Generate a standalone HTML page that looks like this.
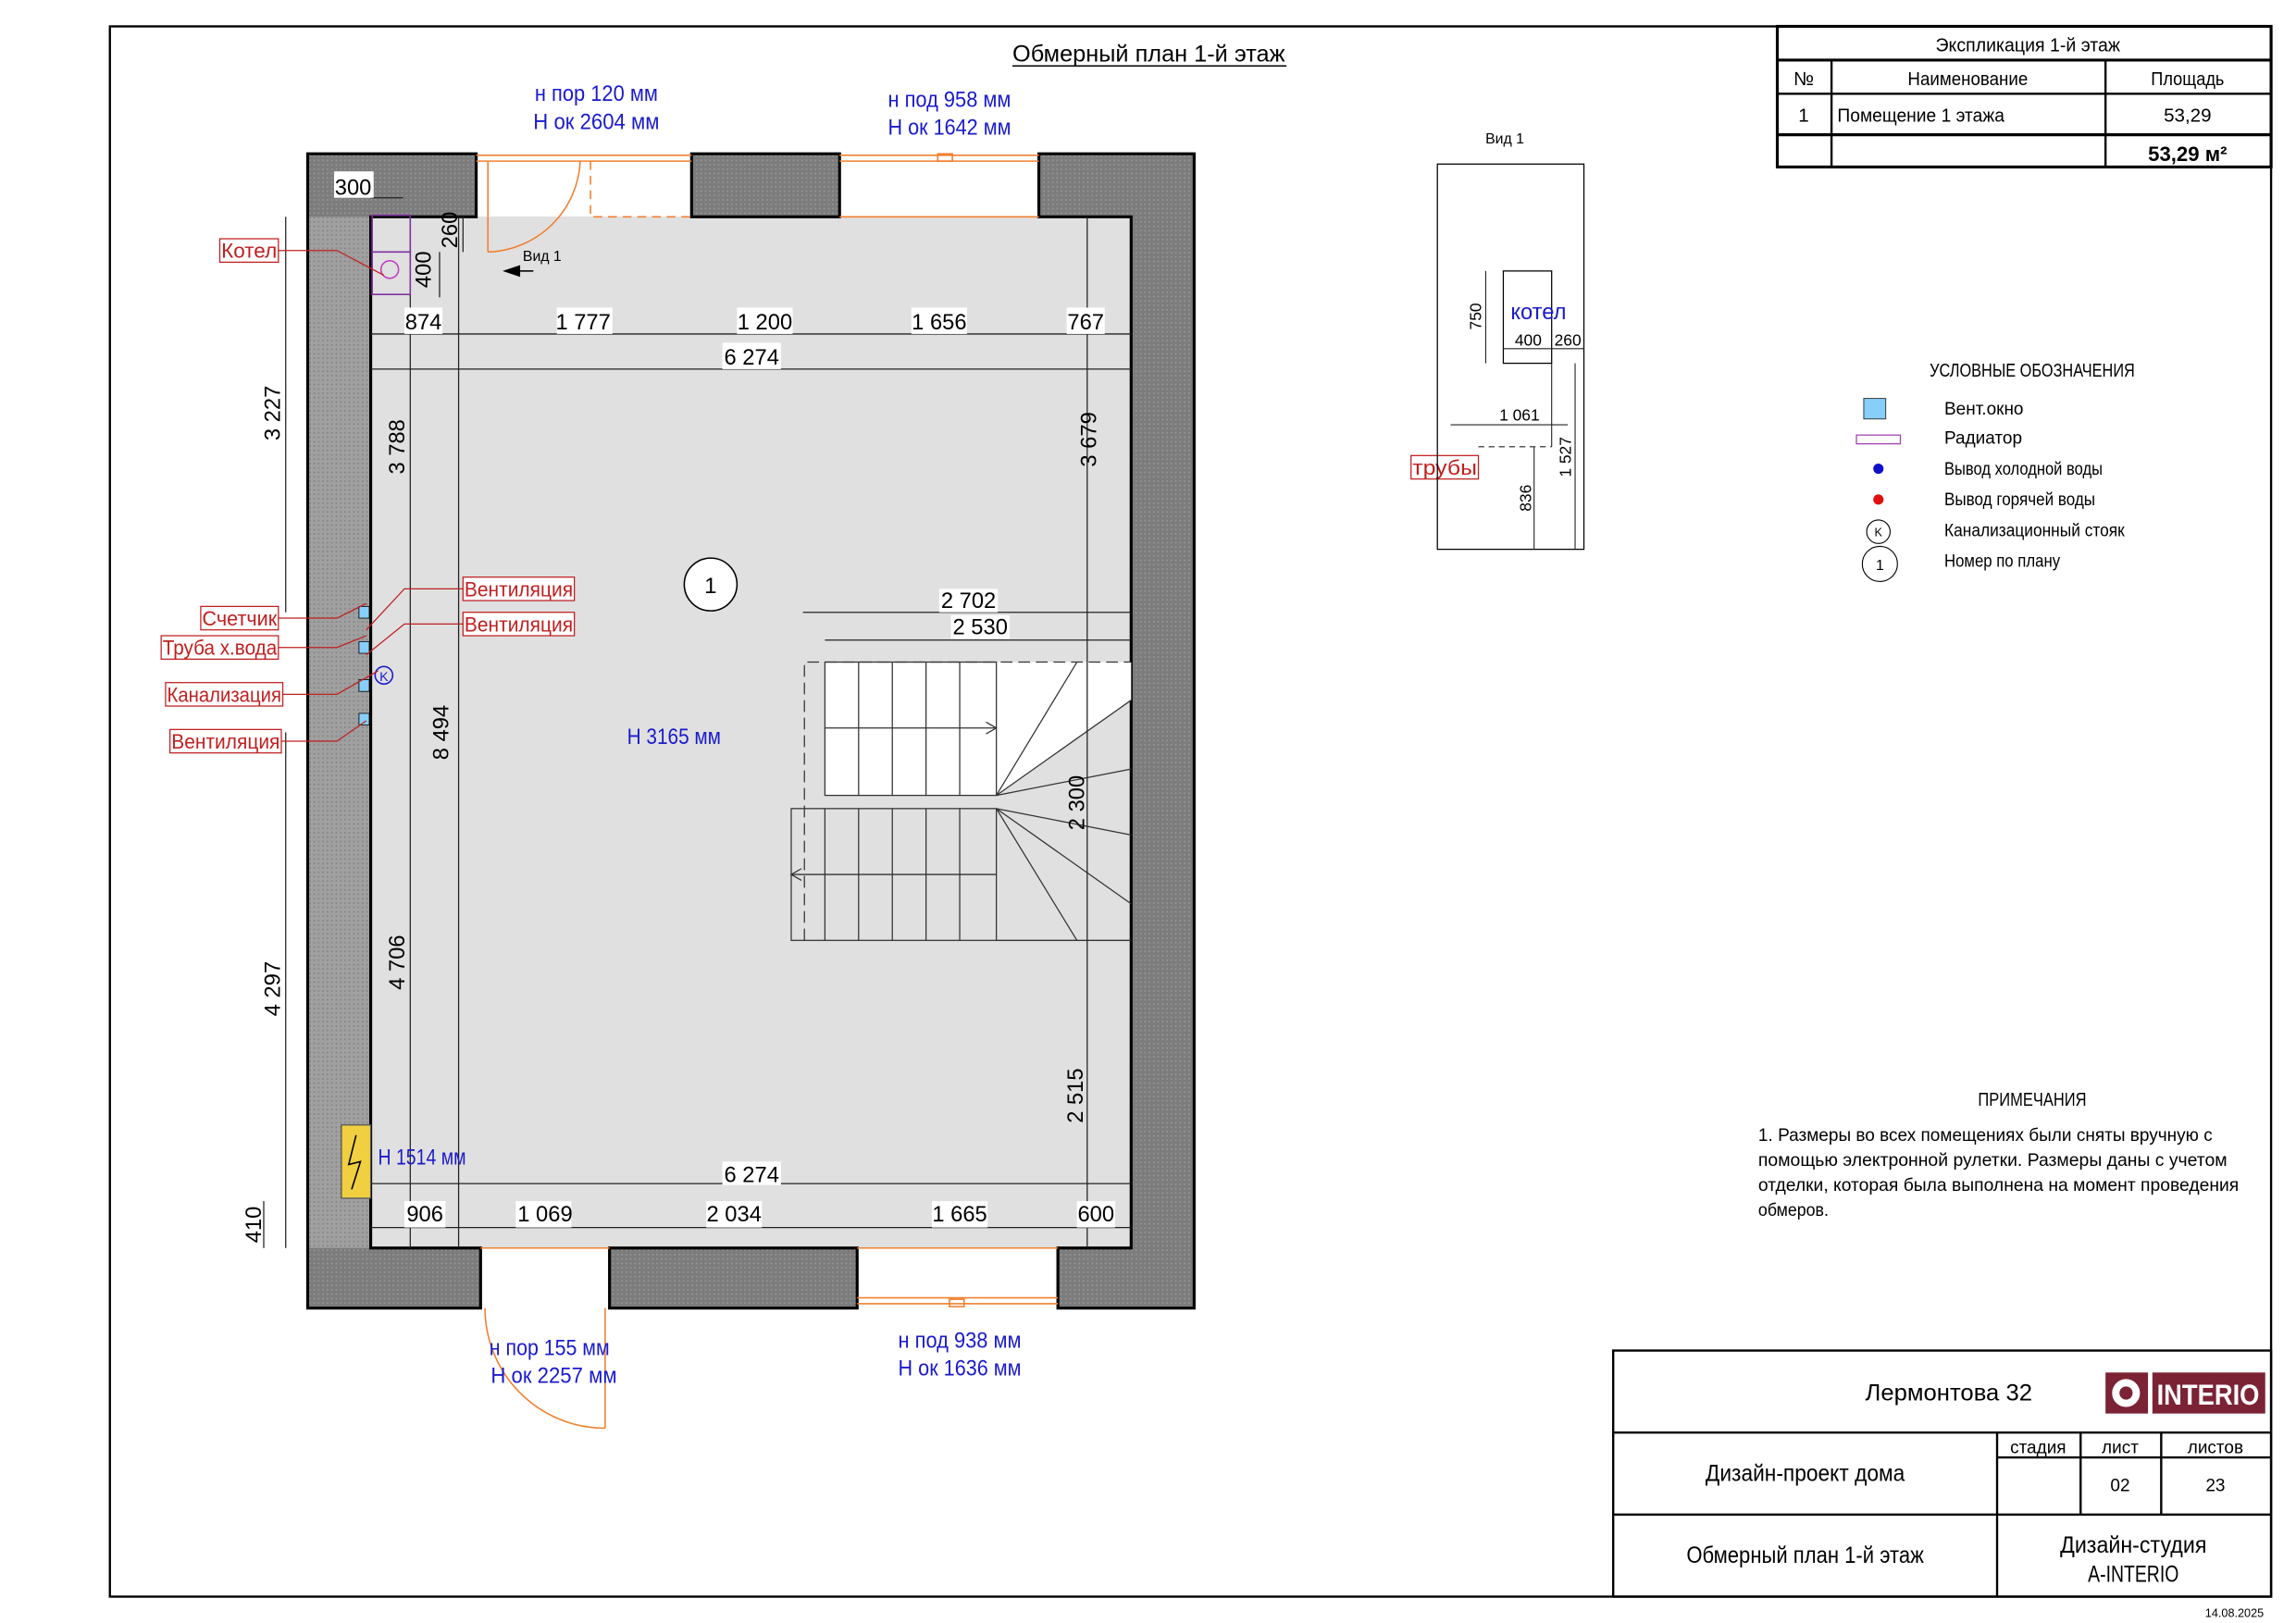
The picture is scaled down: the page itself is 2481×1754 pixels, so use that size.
<!DOCTYPE html>
<html><head><meta charset="utf-8"><style>
html,body{margin:0;padding:0;background:#fff}
svg{display:block}
text{font-family:"Liberation Sans Narrow","Liberation Sans","DejaVu Sans",sans-serif}
</style></head><body>
<svg width="2481" height="1754" viewBox="0 0 1567 1108" preserveAspectRatio="none" xmlns="http://www.w3.org/2000/svg">
<defs>
<pattern id="dots" width="3" height="3" patternUnits="userSpaceOnUse"><rect width="3" height="3" fill="#7c7c7c"/><rect x="1" y="1" width="1" height="1" fill="#9a9a9a"/></pattern>
<pattern id="dots2" width="3" height="3" patternUnits="userSpaceOnUse"><rect width="3" height="3" fill="#a0a0a0"/><rect x="1" y="1" width="1" height="1" fill="#808080"/></pattern>
</defs>
<rect width="1567" height="1108" fill="#fff"/>
<rect x="75" y="18" width="1475" height="1072" fill="none" stroke="#000" stroke-width="1.5"/>
<text x="784" y="42" font-size="16" text-anchor="middle" textLength="186" lengthAdjust="spacingAndGlyphs">Обмерный план 1-й этаж</text>
<line x1="691" y1="45" x2="878" y2="45" stroke="#000" stroke-width="1"/>

<!-- walls -->
<rect x="210" y="105" width="605" height="788" fill="url(#dots)"/>
<rect x="210" y="148" width="43" height="704" fill="url(#dots2)"/>
<rect x="253" y="148" width="519" height="704" fill="#e0e0e0"/>
<rect x="325" y="104" width="147" height="44" fill="#fff"/>
<rect x="573" y="104" width="136" height="44" fill="#fff"/>
<rect x="328" y="852" width="88" height="42" fill="#fff"/>
<rect x="585" y="852" width="137" height="42" fill="#fff"/>
<g fill="none" stroke="#000" stroke-width="2">
<path d="M210 105 H325 V148 H253 V852 H328 V893 H210 Z"/>
<path d="M472 105 H573 V148 H472 Z"/>
<path d="M709 105 H815 V893 H722 V852 H772 V148 H709 Z"/>
<path d="M416 852 H585 V893 H416 Z"/>
</g>
<g fill="none" stroke="#f08030" stroke-width="1">
<line x1="325" y1="106" x2="472" y2="106"/><line x1="325" y1="110" x2="472" y2="110"/>
<line x1="573" y1="106" x2="709" y2="106"/><line x1="573" y1="110" x2="709" y2="110"/>
<line x1="573" y1="148" x2="709" y2="148"/>
<rect x="640" y="105" width="10" height="5"/>
<line x1="333" y1="110" x2="333" y2="172"/>
<path d="M333 172 A65 65 0 0 0 396 110"/>
<path d="M403 110 V148 H472" stroke-dasharray="6 4"/>
<line x1="585" y1="886" x2="722" y2="886"/><line x1="585" y1="890" x2="722" y2="890"/>
<line x1="585" y1="852" x2="722" y2="852"/>
<rect x="648" y="887" width="10" height="5"/>
<line x1="413" y1="893" x2="413" y2="975"/>
<path d="M413 975 A82 82 0 0 1 331 893"/>
<line x1="328" y1="852" x2="416" y2="852"/>
</g>

<!-- stairs -->
<rect x="563" y="452" width="117" height="91" fill="#fff"/>
<polygon points="680,452 772,452 772,478 680,543" fill="#fff"/>
<g stroke="#333" stroke-width="0.8" fill="none">
<rect x="563" y="452" width="117" height="91"/>
<line x1="586" y1="452" x2="586" y2="543"/><line x1="609" y1="452" x2="609" y2="543"/><line x1="632" y1="452" x2="632" y2="543"/><line x1="655" y1="452" x2="655" y2="543"/>
<line x1="563" y1="497" x2="680" y2="497"/><path d="M673 493 L680 497 L673 501"/>
<rect x="540" y="552" width="140" height="90"/>
<line x1="563" y1="552" x2="563" y2="642"/><line x1="586" y1="552" x2="586" y2="642"/><line x1="609" y1="552" x2="609" y2="642"/><line x1="632" y1="552" x2="632" y2="642"/><line x1="655" y1="552" x2="655" y2="642"/>
<line x1="540" y1="597" x2="680" y2="597"/><path d="M547 593 L540 597 L547 601"/>
<path d="M680 543 L735 452 M680 543 L772 478 M680 543 L772 525 M680 552 L772 570 M680 552 L772 617 M680 552 L735 642"/>
<path d="M549 642 V452 H772" stroke-dasharray="8 4"/>
<line x1="680" y1="642" x2="772" y2="642"/>
</g>

<!-- dimension lines -->
<g stroke="#222" stroke-width="0.8" fill="none">
<line x1="253" y1="228" x2="772" y2="228"/><line x1="253" y1="252" x2="772" y2="252"/>
<line x1="280" y1="148" x2="280" y2="852"/><line x1="313" y1="148" x2="313" y2="852"/>
<line x1="742" y1="148" x2="742" y2="852"/>
<line x1="548" y1="418" x2="772" y2="418"/><line x1="563" y1="437" x2="772" y2="437"/>
<line x1="253" y1="808" x2="772" y2="808"/><line x1="253" y1="838" x2="772" y2="838"/>
<line x1="195" y1="148" x2="195" y2="418"/><line x1="195" y1="500" x2="195" y2="852"/>
<line x1="180" y1="820" x2="180" y2="852"/>
<line x1="253" y1="135" x2="275" y2="135"/>
<line x1="316" y1="148" x2="316" y2="172"/><line x1="300" y1="172" x2="300" y2="203"/>
</g>
<g font-size="15" fill="#000" text-anchor="middle">
<g fill="#fff"><rect x="228" y="117" width="27" height="18"/><rect x="276" y="210" width="26" height="18"/><rect x="380" y="210" width="38" height="18"/><rect x="503" y="210" width="38" height="18"/><rect x="622" y="210" width="38" height="18"/><rect x="728" y="210" width="26" height="18"/><rect x="493" y="234" width="40" height="18"/><rect x="493" y="793" width="40" height="16"/><rect x="276" y="820" width="28" height="18"/><rect x="352" y="820" width="38" height="18"/><rect x="482" y="820" width="38" height="18"/><rect x="636" y="820" width="38" height="18"/><rect x="735" y="820" width="26" height="18"/><rect x="641" y="402" width="40" height="16"/><rect x="649" y="420" width="40" height="16"/></g>
<text x="241" y="133">300</text>
<text x="289" y="225">874</text><text x="398" y="225">1 777</text><text x="522" y="225">1 200</text><text x="641" y="225">1 656</text><text x="741" y="225">767</text>
<text x="513" y="249">6 274</text>
<text x="513" y="807">6 274</text>
<text x="290" y="834">906</text><text x="372" y="834">1 069</text><text x="501" y="834">2 034</text><text x="655" y="834">1 665</text><text x="748" y="834">600</text>
<text x="661" y="415">2 702</text><text x="669" y="433">2 530</text>
<text transform="translate(276,305) rotate(-90)" >3 788</text>
<text transform="translate(306,500) rotate(-90)">8 494</text>
<text transform="translate(276,657) rotate(-90)">4 706</text>
<text transform="translate(748,300) rotate(-90)">3 679</text>
<text transform="translate(740,548) rotate(-90)">2 300</text>
<text transform="translate(739,748) rotate(-90)">2 515</text>
<text transform="translate(191,282) rotate(-90)">3 227</text>
<text transform="translate(191,675) rotate(-90)">4 297</text>
<text transform="translate(178,836) rotate(-90)">410</text>
<text transform="translate(312,157) rotate(-90)">260</text>
<text transform="translate(294,184) rotate(-90)">400</text>
</g>
<text x="370" y="178" font-size="10" text-anchor="middle">Вид 1</text>
<path d="M343 185 L355 181 L355 189 Z" fill="#000"/><line x1="355" y1="185" x2="364" y2="185" stroke="#000" stroke-width="1"/>

<rect x="254" y="147" width="26" height="54" fill="none" stroke="#8030a0" stroke-width="1"/>
<line x1="254" y1="172" x2="280" y2="172" stroke="#8030a0"/>
<circle cx="266" cy="184" r="6" fill="none" stroke="#c040c0"/>

<circle cx="485" cy="399" r="18" fill="#fff" stroke="#000" stroke-width="1"/>
<text x="485" y="405" font-size="15" text-anchor="middle">1</text>
<g fill="#1a1acc" font-size="15" text-anchor="middle">
<text x="460" y="508" textLength="64" lengthAdjust="spacingAndGlyphs">H 3165 мм</text>
<text x="258" y="795" text-anchor="start" textLength="60" lengthAdjust="spacingAndGlyphs">H 1514 мм</text>
<text x="407" y="69" textLength="84" lengthAdjust="spacingAndGlyphs">н пор 120 мм</text><text x="407" y="88" textLength="86" lengthAdjust="spacingAndGlyphs">Н ок 2604 мм</text>
<text x="648" y="73" textLength="84" lengthAdjust="spacingAndGlyphs">н под 958 мм</text><text x="648" y="92" textLength="84" lengthAdjust="spacingAndGlyphs">Н ок 1642 мм</text>
<text x="375" y="925" textLength="82" lengthAdjust="spacingAndGlyphs">н пор 155 мм</text><text x="378" y="944" textLength="86" lengthAdjust="spacingAndGlyphs">Н ок 2257 мм</text>
<text x="655" y="920" textLength="84" lengthAdjust="spacingAndGlyphs">н под 938 мм</text><text x="655" y="939" textLength="84" lengthAdjust="spacingAndGlyphs">Н ок 1636 мм</text>
</g>
<rect x="233" y="768" width="20" height="50" fill="#f0d040" stroke="#555" stroke-width="0.8"/>
<path d="M243 775 L238 795 L246 793 L240 812" fill="none" stroke="#000" stroke-width="1"/>

<g fill="#87cefa" stroke="#000" stroke-width="0.5">
<rect x="245" y="414" width="7" height="8"/><rect x="245" y="438" width="7" height="8"/><rect x="245" y="464" width="7" height="8"/><rect x="245" y="487" width="7" height="8"/>
</g>
<circle cx="262" cy="461" r="6" fill="none" stroke="#1a1acc"/><text x="262" y="465" font-size="9" fill="#1a1acc" text-anchor="middle">K</text>
<g fill="none" stroke="#c02020" stroke-width="0.8">
<path d="M190 171 H230 L262 188"/>
<path d="M190 422 H230 L250 412"/>
<path d="M190 442 H230 L250 434"/>
<path d="M193 474 H230 L258 458"/>
<path d="M192 506 H230 L250 492"/>
<path d="M316 402 H276 L250 430"/>
<path d="M316 426 H276 L250 447"/>
</g>
<g font-size="14" fill="#c02020">
<rect x="150" y="163" width="40" height="16" fill="#fff" stroke="#c02020" stroke-width="0.8"/><text x="151" y="176" textLength="38" lengthAdjust="spacingAndGlyphs">Котел</text>
<rect x="137" y="414" width="53" height="16" fill="#fff" stroke="#c02020" stroke-width="0.8"/><text x="138" y="427" textLength="51" lengthAdjust="spacingAndGlyphs">Счетчик</text>
<rect x="110" y="434" width="80" height="16" fill="#fff" stroke="#c02020" stroke-width="0.8"/><text x="111" y="447" textLength="78" lengthAdjust="spacingAndGlyphs">Труба х.вода</text>
<rect x="113" y="466" width="80" height="16" fill="#fff" stroke="#c02020" stroke-width="0.8"/><text x="114" y="479" textLength="78" lengthAdjust="spacingAndGlyphs">Канализация</text>
<rect x="116" y="498" width="76" height="16" fill="#fff" stroke="#c02020" stroke-width="0.8"/><text x="117" y="511" textLength="74" lengthAdjust="spacingAndGlyphs">Вентиляция</text>
<rect x="316" y="394" width="76" height="16" fill="#fff" stroke="#c02020" stroke-width="0.8"/><text x="317" y="407" textLength="74" lengthAdjust="spacingAndGlyphs">Вентиляция</text>
<rect x="316" y="418" width="76" height="16" fill="#fff" stroke="#c02020" stroke-width="0.8"/><text x="317" y="431" textLength="74" lengthAdjust="spacingAndGlyphs">Вентиляция</text>
<rect x="963" y="311" width="46" height="16" fill="#fff" stroke="#c02020" stroke-width="0.8"/><text x="964" y="324" textLength="44" lengthAdjust="spacingAndGlyphs">трубы</text>
</g>

<text x="1027" y="98" font-size="10" text-anchor="middle">Вид 1</text>
<rect x="981" y="112" width="100" height="263" fill="none" stroke="#000" stroke-width="0.8"/>
<rect x="1026" y="185" width="33" height="63" fill="none" stroke="#000" stroke-width="0.8"/>
<g stroke="#222" stroke-width="0.7" fill="none">
<line x1="1014" y1="185" x2="1014" y2="248"/><line x1="1026" y1="238" x2="1081" y2="238"/>
<line x1="990" y1="290" x2="1070" y2="290"/><line x1="1075" y1="248" x2="1075" y2="375"/>
<line x1="1047" y1="305" x2="1047" y2="375"/><line x1="1059" y1="248" x2="1059" y2="305"/>
<path d="M1009 305 H1059" stroke-dasharray="4 3"/>
</g>
<text x="1050" y="218" font-size="15" fill="#1a1acc" text-anchor="middle">котел</text>
<g font-size="11" text-anchor="middle">
<text x="1043" y="236">400</text><text x="1070" y="236">260</text><text x="1037" y="287">1 061</text>
<text transform="translate(1011,216) rotate(-90)">750</text>
<text transform="translate(1072,312) rotate(-90)">1 527</text>
<text transform="translate(1045,340) rotate(-90)">836</text>
</g>

<g stroke="#000" fill="none">
<rect x="1213" y="18" width="337" height="96" stroke-width="2"/>
<line x1="1213" y1="41" x2="1550" y2="41" stroke-width="2"/>
<line x1="1213" y1="64" x2="1550" y2="64" stroke-width="1.5"/>
<line x1="1213" y1="92" x2="1550" y2="92" stroke-width="2"/>
<line x1="1250" y1="41" x2="1250" y2="114" stroke-width="1.5"/>
<line x1="1437" y1="41" x2="1437" y2="114" stroke-width="1.5"/>
</g>
<g font-size="13" text-anchor="middle">
<text x="1384" y="35" textLength="126" lengthAdjust="spacingAndGlyphs">Экспликация 1-й этаж</text>
<text x="1231" y="58">№</text><text x="1343" y="58" textLength="82" lengthAdjust="spacingAndGlyphs">Наименование</text><text x="1493" y="58" textLength="50" lengthAdjust="spacingAndGlyphs">Площадь</text>
<text x="1231" y="83">1</text><text x="1254" y="83" text-anchor="start" textLength="114" lengthAdjust="spacingAndGlyphs">Помещение 1 этажа</text><text x="1493" y="83">53,29</text>
<text x="1493" y="110" font-weight="bold" font-family="Liberation Sans, sans-serif" font-size="14">53,29 м²</text>
</g>

<text x="1387" y="257" font-size="13" text-anchor="middle" textLength="140" lengthAdjust="spacingAndGlyphs">УСЛОВНЫЕ ОБОЗНАЧЕНИЯ</text>
<rect x="1272" y="272" width="15" height="14" fill="#87cefa" stroke="#333" stroke-width="0.6"/>
<rect x="1267" y="297" width="30" height="6" fill="#fff" stroke="#a040b0" stroke-width="0.8"/>
<circle cx="1282" cy="320" r="3.5" fill="#1010cc"/>
<circle cx="1282" cy="341" r="3.5" fill="#e01010"/>
<circle cx="1282" cy="363" r="8" fill="none" stroke="#000" stroke-width="0.7"/><text x="1282" y="366" font-size="8" text-anchor="middle">K</text>
<circle cx="1283" cy="385" r="12" fill="none" stroke="#000" stroke-width="0.7"/><text x="1283" y="389" font-size="10" text-anchor="middle">1</text>
<g font-size="12">
<text x="1327" y="283">Вент.окно</text><text x="1327" y="303">Радиатор</text><text x="1327" y="324" textLength="108" lengthAdjust="spacingAndGlyphs">Вывод холодной воды</text>
<text x="1327" y="345" textLength="103" lengthAdjust="spacingAndGlyphs">Вывод горячей воды</text><text x="1327" y="366" textLength="123" lengthAdjust="spacingAndGlyphs">Канализационный стояк</text><text x="1327" y="387" textLength="79" lengthAdjust="spacingAndGlyphs">Номер по плану</text>
</g>

<text x="1387" y="755" font-size="13" text-anchor="middle" textLength="74" lengthAdjust="spacingAndGlyphs">ПРИМЕЧАНИЯ</text>
<g font-size="12.5">
<text x="1200" y="779" textLength="310" lengthAdjust="spacingAndGlyphs">1. Размеры во всех помещениях были сняты вручную с</text>
<text x="1200" y="796" textLength="320" lengthAdjust="spacingAndGlyphs">помощью электронной рулетки. Размеры даны с учетом</text>
<text x="1200" y="813" textLength="328" lengthAdjust="spacingAndGlyphs">отделки, которая была выполнена на момент проведения</text>
<text x="1200" y="830" textLength="48" lengthAdjust="spacingAndGlyphs">обмеров.</text>
</g>

<g stroke="#000" fill="none" stroke-width="1.5">
<rect x="1101" y="922" width="449" height="168"/>
<line x1="1101" y1="978" x2="1550" y2="978"/><line x1="1101" y1="1034" x2="1550" y2="1034"/>
<line x1="1363" y1="978" x2="1363" y2="1090"/>
<line x1="1420" y1="978" x2="1420" y2="1034"/><line x1="1475" y1="978" x2="1475" y2="1034"/>
<line x1="1363" y1="995" x2="1550" y2="995"/>
</g>
<g font-size="16" text-anchor="middle">
<text x="1330" y="956" textLength="114" lengthAdjust="spacingAndGlyphs">Лермонтова 32</text>
<text x="1232" y="1011" textLength="136" lengthAdjust="spacingAndGlyphs">Дизайн-проект дома</text>
<text x="1232" y="1067" textLength="162" lengthAdjust="spacingAndGlyphs">Обмерный план 1-й этаж</text>
<text x="1456" y="1060" textLength="100" lengthAdjust="spacingAndGlyphs">Дизайн-студия</text><text x="1456" y="1080" textLength="62" lengthAdjust="spacingAndGlyphs">A-INTERIO</text>
</g>
<g font-size="12" text-anchor="middle">
<text x="1391" y="992">стадия</text><text x="1447" y="992">лист</text><text x="1512" y="992">листов</text>
<text x="1447" y="1018">02</text><text x="1512" y="1018">23</text>
</g>
<rect x="1437" y="937" width="29" height="28" fill="#7b2335"/>
<circle cx="1451" cy="951" r="7" fill="none" stroke="#fff" stroke-width="5"/>
<rect x="1469" y="937" width="77" height="28" fill="#7b2335"/>
<text x="1507" y="959" font-size="20" font-weight="bold" fill="#fff" text-anchor="middle" textLength="70" lengthAdjust="spacingAndGlyphs">INTERIO</text>
<text x="1545" y="1104" font-size="8" text-anchor="end">14.08.2025</text>
</svg>
</body></html>
